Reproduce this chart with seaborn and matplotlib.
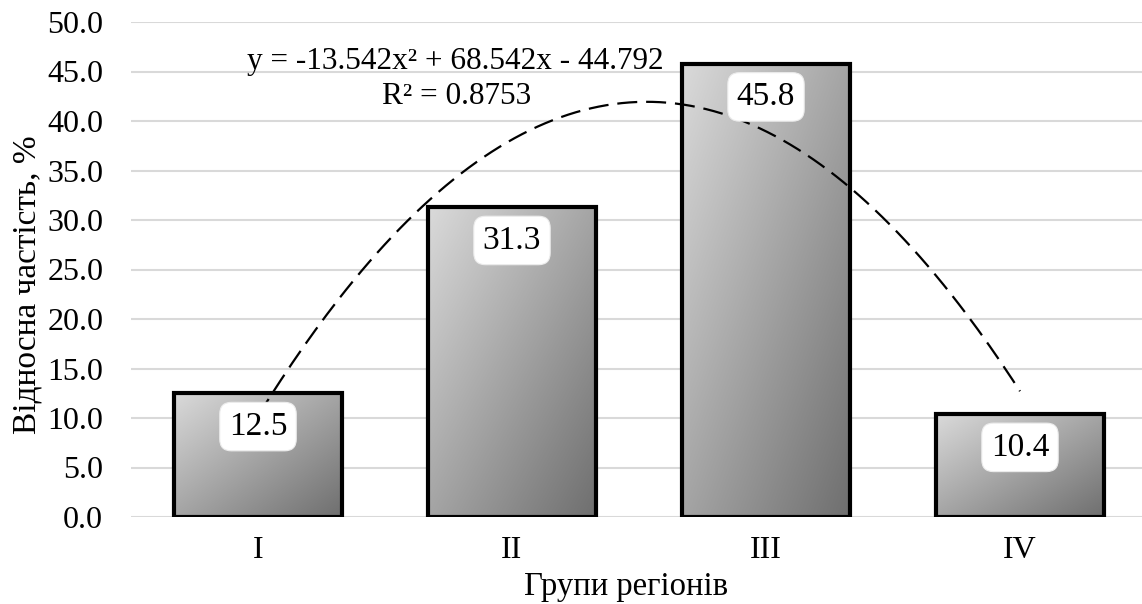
import numpy as np
import pandas as pd
import matplotlib
matplotlib.use("Agg")
import matplotlib.pyplot as plt
import seaborn as sns

groups = ["I", "II", "III", "IV"]
shares = [12.5, 31.3, 45.8, 10.4]
trend_coef = [-13.542, 68.542, -44.792]  # a, b, c of the quadratic trend
r_squared = 0.8753

sns.set_theme(style="white")
plt.rcParams["font.family"] = ["Liberation Serif", "DejaVu Serif"]
plt.rcParams.update({"text.color": "black", "axes.labelcolor": "black",
                     "xtick.color": "black", "ytick.color": "black"})

df = pd.DataFrame({"group": groups, "share": shares})

fig = plt.figure(figsize=(11.42, 6.04), dpi=100)
ax = fig.add_axes([131 / 1142, 87 / 604, 1016 / 1142, 495 / 604])

sns.barplot(data=df, x="group", y="share", ax=ax, width=0.66,
            facecolor="none", edgecolor="black", linewidth=3.0, zorder=3)

# diagonal grey gradient inside every bar
gy, gx = np.mgrid[0:1:200j, 0:1:200j]
grad = (gx + gy) / 2.0
cmap = matplotlib.colors.LinearSegmentedColormap.from_list(
    "bar_grey", ["#dadada", "#6f6f6f"])
for patch in ax.patches:
    x0, y0 = patch.get_x(), patch.get_y()
    w, h = patch.get_width(), patch.get_height()
    im = ax.imshow(grad, cmap=cmap, vmin=0, vmax=1, origin="upper",
                   extent=[x0, x0 + w, y0, y0 + h], aspect="auto",
                   zorder=2, interpolation="bilinear")
    im.set_clip_path(patch)

ax.set_xlim(-0.5, 3.5)
ax.set_ylim(0, 50)
ticks = np.arange(0, 50.1, 5)
ax.set_yticks(ticks)
ax.set_yticklabels([f"{v:.1f}" for v in ticks])
ax.yaxis.grid(True, color="#d9d9d9", linewidth=1.5, zorder=0)
ax.set_axisbelow(True)
for s in ax.spines.values():
    s.set_visible(False)
ax.tick_params(axis="y", length=0, pad=20, labelsize=23)
ax.tick_params(axis="x", length=0, pad=14, labelsize=23)

# polynomial trend line through the category positions 1..4
xs = np.linspace(1, 4, 200)
a, b, c = trend_coef
ys = a * xs ** 2 + b * xs + c
ax.plot(xs - 1, ys, color="black", linewidth=1.6, dashes=(9, 4), zorder=5)

# value labels
for i, v in enumerate(shares):
    ax.annotate(f"{v:.1f}", xy=(i, v), xytext=(0, -24),
                textcoords="offset points", ha="center", va="center",
                fontsize=24, zorder=6,
                bbox=dict(boxstyle="round,pad=0.27,rounding_size=0.35",
                          facecolor="white", edgecolor="#ececec", linewidth=0.8))

fig.text(455 / 1142, 1 - 62 / 604,
         f"y = {a:.3f}x² + {b:.3f}x - {abs(c):.3f}",
         ha="center", va="center", fontsize=22.5)
fig.text(457 / 1142, 1 - 97 / 604, f"R² = {r_squared:.4f}",
         ha="center", va="center", fontsize=22.5)

ax.set_xlabel("Групи регіонів", fontsize=23.5)
ax.set_ylabel("Відносна частість, %", fontsize=24)
ax.xaxis.set_label_coords(0.487, -0.11)
ax.yaxis.set_label_coords(-0.087, 0.47)

fig.savefig("out.png", dpi=100, facecolor="white")
